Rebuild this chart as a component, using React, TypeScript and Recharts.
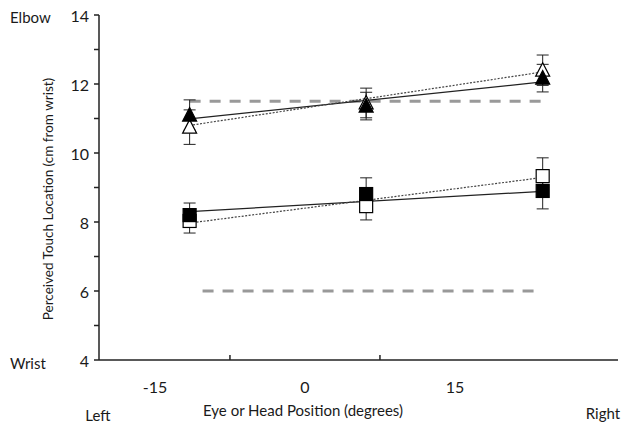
import React from 'react';
import { ComposedChart, XAxis, YAxis, Scatter, Line, ErrorBar, Label } from 'recharts';

// Eye/head positions (degrees)
const positions = [-15, 0, 15];

// Elbow-site (triangles) and wrist-site (squares) perceived locations, cm from wrist
const filledTriangle = [11.1, 11.36, 12.17];
const filledTriangleErr = [0.44, 0.4, 0.4];
const openTriangle = [10.75, 11.45, 12.4];
const openTriangleErr = [0.5, 0.43, 0.44];
const filledSquare = [8.2, 8.81, 8.9];
const filledSquareErr = [0.35, 0.47, 0.52];
const openSquare = [8.03, 8.46, 9.33];
const openSquareErr = [0.35, 0.4, 0.53];

// Linear fit end values
const fitX = [-15, 15];
const triangleSolidFit = [10.99, 12.06];
const triangleDottedFit = [10.8, 12.35];
const squareSolidFit = [8.3, 8.89];
const squareDottedFit = [7.97, 9.29];

// Actual stimulus locations (dashed)
const upperRefX = [-15, 15];
const upperRef = [11.5, 11.5];
const lowerRefX = [-13.9, 14.3];
const lowerRef = [6, 6];

// Axis ticks
const yTicks = [4, 5, 6, 7, 8, 9, 10, 11, 12, 13, 14];
const xTickLabels = ['-15', '0', '15'];
const xLabelTicks = [0.5, 1, 1.5, 2, 2.5];

const FONT = 'Lato, "Open Sans", sans-serif';
const TEXT = '#1a1a1a';
const AXIS = '#222';

const mk = (vals: number[], errs: number[]) =>
  positions.map((x, i) => ({ x, y: vals[i], err: errs[i] }));
const mkLine = (xs: number[], ys: number[]) => xs.map((x, i) => ({ x, y: ys[i] }));

const filledTriData = mk(filledTriangle, filledTriangleErr);
const openTriData = mk(openTriangle, openTriangleErr);
const filledSqData = mk(filledSquare, filledSquareErr);
const openSqData = mk(openSquare, openSquareErr);
const labelAnchorData = xLabelTicks.map((x) => ({ x, y: 4 }));

const Tri = (filled: boolean) => (p: any) => {
  const { cx, cy } = p;
  if (cx == null || cy == null) return <g />;
  return (
    <polygon
      points={`${cx},${cy - 7.5} ${cx - 7},${cy + 6} ${cx + 7},${cy + 6}`}
      fill={filled ? '#000' : '#fff'}
      stroke="#000"
      strokeWidth={1.2}
    />
  );
};

const Sq = (filled: boolean) => (p: any) => {
  const { cx, cy } = p;
  if (cx == null || cy == null) return <g />;
  return (
    <rect
      x={cx - 6.5}
      y={cy - 6.5}
      width={13}
      height={13}
      fill={filled ? '#000' : '#fff'}
      stroke="#000"
      strokeWidth={1.2}
    />
  );
};

const Nothing = () => <g />;

const YTick = (props: any) => {
  const { x, y, payload } = props;
  const v = payload.value;
  return (
    <g>
      <line x1={x - 5} x2={x} y1={y} y2={y} stroke={AXIS} strokeWidth={1.5} />
      {v % 2 === 0 && (
        <text x={x - 10} y={y} textAnchor="end" dominantBaseline="central" fontSize={16} fontFamily={FONT} fill={TEXT}>
          {v}
        </text>
      )}
      {v === 14 && (
        <text x={10} y={y + 2} textAnchor="start" dominantBaseline="central" fontSize={15} fontFamily={FONT} fill={TEXT}>
          Elbow
        </text>
      )}
      {v === 4 && (
        <text x={10} y={y + 3} textAnchor="start" dominantBaseline="central" fontSize={15} fontFamily={FONT} fill={TEXT}>
          Wrist
        </text>
      )}
    </g>
  );
};

const XTick = (props: any) => {
  const { x, y, payload } = props;
  const v = payload.value;
  if (Number.isInteger(v)) {
    return <line x1={x} x2={x} y1={y} y2={y - 5} stroke={AXIS} strokeWidth={1.5} />;
  }
  return (
    <text x={x} y={y + 26} textAnchor="middle" dominantBaseline="central" fontSize={16} fontFamily={FONT} fill={TEXT}>
      {xTickLabels[Math.floor(v)]}
    </text>
  );
};

const XTitle = () => (
  <g>
    <text x={98} y={415} textAnchor="middle" dominantBaseline="central" fontSize={15} fontFamily={FONT} fill={TEXT}>
      Left
    </text>
    <text x={303} y={410} textAnchor="middle" dominantBaseline="central" fontSize={15} fontFamily={FONT} fill={TEXT}>
      Eye or Head Position (degrees)
    </text>
    <text x={603} y={413} textAnchor="middle" dominantBaseline="central" fontSize={15} fontFamily={FONT} fill={TEXT}>
      Right
    </text>
  </g>
);

const YTitle = () => (
  <text
    transform="translate(48,199) rotate(-90)"
    textAnchor="middle"
    dominantBaseline="central"
    fontSize={13.5}
    fontFamily={FONT}
    fill={TEXT}
  >
    Perceived Touch Location (cm from wrist)
  </text>
);

export default function App() {
  return (
    <div style={{ position: 'absolute', left: 0, top: 0, width: 625, height: 423, background: '#fff' }}>
      <ComposedChart width={625} height={423} margin={{ top: 15, right: 7, bottom: 0, left: 0 }}>
        <XAxis xAxisId="deg" type="number" dataKey="x" domain={[-22.7, 21.4]} allowDataOverflow hide height={0} />
        <XAxis
          xAxisId="lab"
          type="number"
          dataKey="x"
          domain={[0.127, 3.587]}
          allowDataOverflow
          ticks={xLabelTicks}
          interval={0}
          tick={XTick}
          tickLine={false}
          tickSize={0}
          tickMargin={0}
          axisLine={{ stroke: AXIS, strokeWidth: 1.5 }}
          height={63}
        >
          <Label content={XTitle} />
        </XAxis>
        <YAxis
          type="number"
          dataKey="y"
          domain={[4, 14]}
          allowDataOverflow
          ticks={yTicks}
          interval={0}
          tick={YTick}
          tickLine={false}
          tickSize={0}
          tickMargin={0}
          axisLine={{ stroke: AXIS, strokeWidth: 1.5 }}
          width={99}
        >
          <Label content={YTitle} />
        </YAxis>

        <Scatter xAxisId="lab" data={labelAnchorData} dataKey="y" shape={Nothing} isAnimationActive={false} />

        <Line xAxisId="deg" data={mkLine(upperRefX, upperRef)} dataKey="y" stroke="#999" strokeWidth={3} strokeDasharray="11 9" dot={false} activeDot={false} isAnimationActive={false} />
        <Line xAxisId="deg" data={mkLine(lowerRefX, lowerRef)} dataKey="y" stroke="#999" strokeWidth={3} strokeDasharray="11 9" dot={false} activeDot={false} isAnimationActive={false} />

        <Line xAxisId="deg" data={mkLine(fitX, triangleSolidFit)} dataKey="y" stroke="#222" strokeWidth={1.2} dot={false} activeDot={false} isAnimationActive={false} />
        <Line xAxisId="deg" data={mkLine(fitX, triangleDottedFit)} dataKey="y" stroke="#444" strokeWidth={1.2} strokeDasharray="2 1.5" dot={false} activeDot={false} isAnimationActive={false} />
        <Line xAxisId="deg" data={mkLine(fitX, squareSolidFit)} dataKey="y" stroke="#222" strokeWidth={1.2} dot={false} activeDot={false} isAnimationActive={false} />
        <Line xAxisId="deg" data={mkLine(fitX, squareDottedFit)} dataKey="y" stroke="#444" strokeWidth={1.2} strokeDasharray="2 1.5" dot={false} activeDot={false} isAnimationActive={false} />

        <Scatter xAxisId="deg" data={openTriData} dataKey="y" shape={Tri(false)} isAnimationActive={false}>
          <ErrorBar dataKey="err" direction="y" width={6} stroke="#222" strokeWidth={1} />
        </Scatter>
        <Scatter xAxisId="deg" data={filledTriData} dataKey="y" shape={Tri(true)} isAnimationActive={false}>
          <ErrorBar dataKey="err" direction="y" width={6} stroke="#222" strokeWidth={1} />
        </Scatter>
        <Scatter xAxisId="deg" data={openSqData} dataKey="y" shape={Sq(false)} isAnimationActive={false}>
          <ErrorBar dataKey="err" direction="y" width={6} stroke="#222" strokeWidth={1} />
        </Scatter>
        <Scatter xAxisId="deg" data={filledSqData} dataKey="y" shape={Sq(true)} isAnimationActive={false}>
          <ErrorBar dataKey="err" direction="y" width={6} stroke="#222" strokeWidth={1} />
        </Scatter>
      </ComposedChart>
    </div>
  );
}
